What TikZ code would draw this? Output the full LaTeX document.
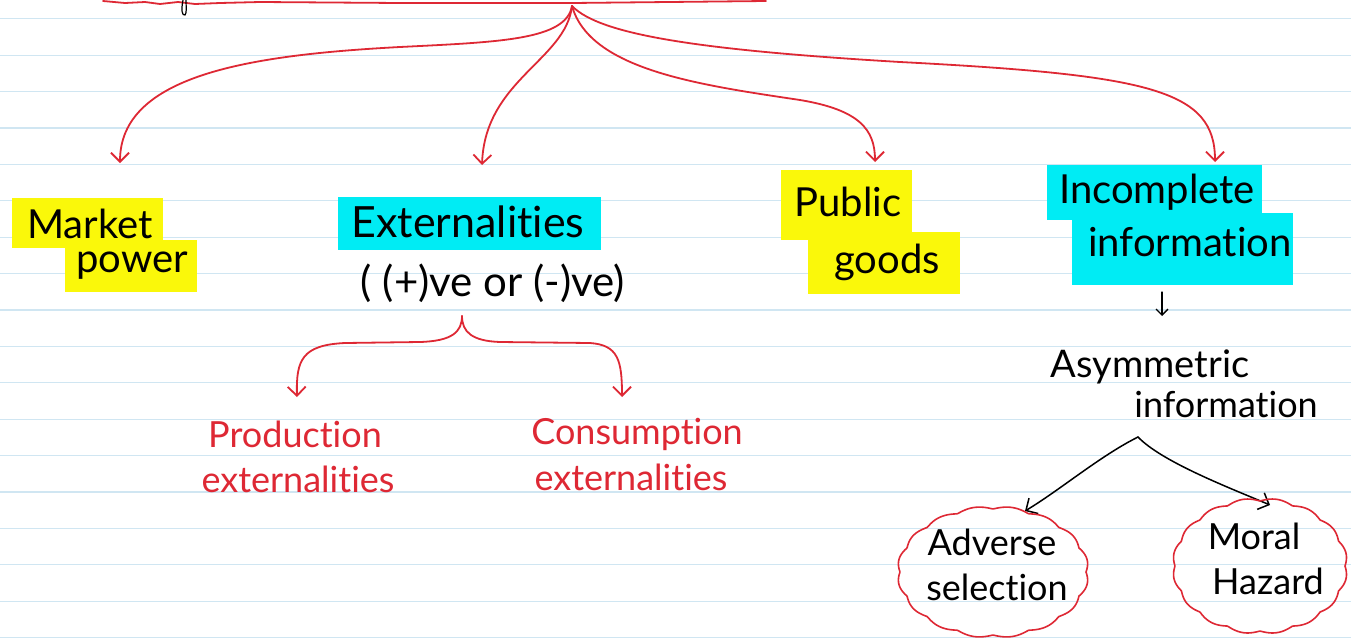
\documentclass[tikz,border=0pt]{standalone}
\usepackage{fontspec}
\setmainfont[Ligatures={NoCommon,NoDiscretionary}]{Lato}
\usetikzlibrary{arrows.meta}
\definecolor{inkred}{RGB}{222,40,52}
\definecolor{hlyellow}{RGB}{250,248,10}
\definecolor{hlcyan}{RGB}{0,236,244}
\definecolor{rulecol}{RGB}{208,230,242}
\begin{document}
\begin{tikzpicture}[x=1pt,y=-1pt,
  rule/.style={draw=rulecol,line width=1.2pt},
  hly/.style={fill=hlyellow},
  hlc/.style={fill=hlcyan},
  inktext/.style={inner sep=0pt,text=black,font=\fontsize{40}{44}\selectfont},
  redtext/.style={inner sep=0pt,text=inkred,font=\fontsize{36}{40}\selectfont},
  redline/.style={draw=inkred,line width=1.8pt,line cap=round},
  redarr/.style={redline,-{Straight Barb[length=9pt,width=18pt,line width=1.8pt]}},
  inkline/.style={draw=black,line width=1.5pt,line cap=round},
  inkarr/.style={inkline,-{Straight Barb[length=9pt,width=18pt,line width=1.5pt]}},
  cloudline/.style={draw=inkred,line width=1.6pt}
]
\useasboundingbox (0,0) rectangle (1351,640);
\fill[white] (0,0) rectangle (1351,640);
% ruled paper
\foreach \k in {0,...,17}{
  \draw[rule] (0,{18.8+36.4*\k}) -- (1351,{18.8+36.4*\k});
}
% highlights
\fill[hly] (12,198) rectangle (163,248);
\fill[hly] (65,240) rectangle (197,292);
\fill[hlc] (338,197) rectangle (601,250);
\fill[hly] (781,170) rectangle (912,240);
\fill[hly] (808,232) rectangle (960,294);
\fill[hlc] (1047,165) rectangle (1262,220);
\fill[hlc] (1072,213) rectangle (1293,285);

% top red underline with ink descender
\draw[redline] (103,1) -- (125,3) -- (145,2) -- (160,4) -- (178,2) -- (195,4) -- (220,3) -- (260,2) -- (400,3) -- (572,3) -- (766,1);
\draw[inkline,line width=1.2pt] (183,0) .. controls (181,10) and (182,16) .. (185,15) .. controls (187,13) and (186,6) .. (186,0);
\coordinate (hub) at (572,6);

% labels
\node[inktext] (mk) at (90,224) {Market};
\node[inktext] (pw) at (132,266) {power};
\node[inktext,font=\fontsize{43}{46}\selectfont] (ex) at (468,222) {Externalities};
\node[inktext,font=\fontsize{42}{46}\selectfont] (pm) at (493,283) {( (+)ve or (-)ve)};
\node[inktext] (pub) at (848,202) {Public};
\node[inktext] (gd) at (887,262) {goods};
\node[inktext] (inc) at (1157,192) {Incomplete};
\node[inktext] (inf) at (1190,242) {information};
\node[inktext,font=\fontsize{38}{42}\selectfont] (asy) at (1150,367) {Asymmetric};
\node[inktext,font=\fontsize{36}{40}\selectfont] (asinf) at (1226,405) {information};
\node[redtext] (prod) at (295,434) {Production};
\node[redtext] (pext) at (298,479) {externalities};
\node[redtext] (cons) at (637,434) {Consumption};
\node[redtext] (cext) at (631,477) {externalities};
\node[inktext,font=\fontsize{36}{40}\selectfont] (adv) at (992,542) {Adverse};
\node[inktext,font=\fontsize{36}{40}\selectfont] (sel) at (997,587) {selection};
\node[inktext,font=\fontsize{36}{40}\selectfont] (mor) at (1254,536) {Moral};
\node[inktext,font=\fontsize{36}{40}\selectfont] (haz) at (1268,581) {Hazard};

% arrow tips (free ends)
\coordinate (mkT) at (120,163);
\coordinate (exT) at (482,165);
\coordinate (pgT) at (875,162);
\coordinate (iiT) at (1215,162);

% top branches
\draw[redarr] (hub) .. controls (566,40) and (500,42) .. (400,47) .. controls (250,55) and (120,75) .. (mkT);
\draw[redarr] (hub) .. controls (566,60) and (485,80) .. (exT);
\draw[redarr] (hub) .. controls (590,70) and (700,85) .. (800,100) .. controls (860,110) and (875,130) .. (pgT);
\draw[redarr] (hub) .. controls (600,35) and (700,50) .. (900,62) .. controls (1150,75) and (1215,90) .. (iiT);

% brace below externalities
\coordinate (br) at (462,316);
\coordinate (prT) at (297,397);
\coordinate (coT) at (622,397);
\draw[redarr] (br) .. controls (462,332) and (452,341) .. (420,342) -- (345,343) .. controls (302,345) and (296,360) .. (prT);
\draw[redarr] (br) .. controls (462,332) and (472,341) .. (500,342) -- (590,343) .. controls (618,345) and (622,360) .. (coT);

% small arrow incomplete -> asymmetric
\coordinate (sa) at (1162,292);
\coordinate (saT) at (1162,316);
\draw[inkline,-{Straight Barb[length=6pt,width=12pt,line width=1.3pt]},line width=1.3pt] (sa) -- (saT);

% asymmetric -> two outcomes
\coordinate (apex) at (1138,437);
\coordinate (advT) at (1025,511);
\coordinate (morT) at (1270,505);
\draw[inkarr] (apex) .. controls (1100,456) and (1060,490) .. (advT);
\draw[inkarr] (apex) .. controls (1162,462) and (1230,488) .. (morT);

% clouds
\draw[cloudline] plot[domain=0:360,samples=400] ({993+93*cos(\x)*(1+0.03*abs(sin(8*\x)))},{572+63*sin(\x)*(1+0.045*abs(sin(8*\x)))}) -- cycle;
\draw[cloudline] plot[domain=0:360,samples=400] ({1260+85*cos(\x)*(1+0.03*abs(sin(8*\x)))},{566+65*sin(\x)*(1+0.045*abs(sin(8*\x)))}) -- cycle;
\end{tikzpicture}
\end{document}
